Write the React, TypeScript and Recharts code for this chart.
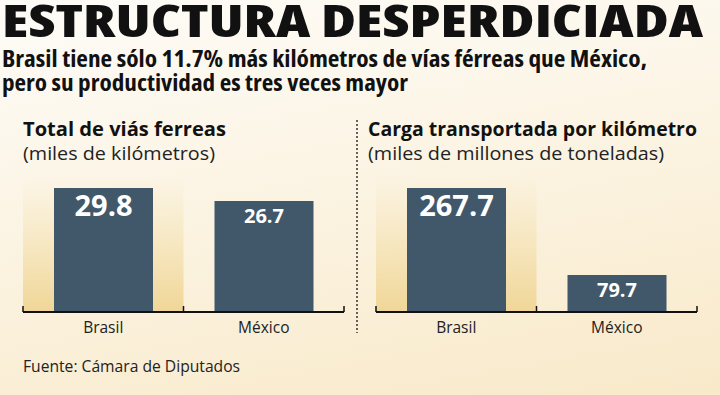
import React from 'react';
import { BarChart, Bar, XAxis, YAxis, ReferenceArea, LabelList } from 'recharts';

const countries = ['Brasil', 'México'];
const railKm = [29.8, 26.7];
const freightTons = [267.7, 79.7];

const railData = countries.map((name, i) => ({ name, value: railKm[i] }));
const freightData = countries.map((name, i) => ({ name, value: freightTons[i] }));

const BAR = '#41586a';
const FONT = '"Open Sans", "DejaVu Sans", sans-serif';
const NARROW = { fontStretch: '75%' };

const ValueLabel = (props: any) => {
  const { x, y, width, value, index } = props;
  const big = index === 0;
  return (
    <text
      x={x + width / 2}
      y={y + (big ? 28 : 22)}
      textAnchor="middle"
      fill="#fff"
      fontFamily={FONT}
      fontWeight={700}
      fontSize={big ? 29 : 20}
    >
      {value}
    </text>
  );
};

const CatTick = (props: any) => {
  const { x, y, payload, index, visibleTicksCount } = props;
  const half = payload.offset || 80.25;
  const axisY = y - 8;
  return (
    <g>
      <line x1={x - half} x2={x - half} y1={axisY} y2={axisY - 6} stroke="#111" strokeWidth={1.5} />
      {index === visibleTicksCount - 1 && (
        <line x1={x + half} x2={x + half} y1={axisY} y2={axisY - 6} stroke="#111" strokeWidth={1.5} />
      )}
      <text x={x} y={axisY + 21} textAnchor="middle" fill="#222" fontFamily={FONT} fontSize={15.5}>
        {payload.value}
      </text>
    </g>
  );
};

const Panel = ({ data, id, left }: { data: any[]; id: string; left: boolean }) => (
  <BarChart
    width={360}
    height={395}
    data={data}
    margin={{ top: 175, bottom: 53, left: left ? 23 : 16, right: left ? 16 : 23 }}
  >
    <XAxis
      dataKey="name"
      axisLine={{ stroke: '#111', strokeWidth: 2 }}
      tickLine={false}
      tick={<CatTick />}
      height={30}
      interval={0}
    />
    <YAxis hide domain={[0, (max: number) => max * 1.105]} />
    <ReferenceArea
      x1={data[0].name}
      x2={data[0].name}
      fill={`url(#${id})`}
      fillOpacity={1}
      stroke="none"
      ifOverflow="visible"
    />
    <Bar dataKey="value" fill={BAR} barSize={99} isAnimationActive={false}>
      <LabelList dataKey="value" content={<ValueLabel />} />
    </Bar>
  </BarChart>
);

export default function App() {
  return (
    <div
      style={{
        position: 'absolute',
        left: 0,
        top: 0,
        width: 720,
        height: 395,
        overflow: 'hidden',
        background: 'linear-gradient(170deg, #fefcf8 0%, #fcf5e6 40%, #f8e9c9 100%)',
      }}
    >
      <svg width={0} height={0} style={{ position: 'absolute' }}>
        <defs>
          {['glowL', 'glowR'].map((g) => (
            <linearGradient key={g} id={g} x1="0" y1="0" x2="0" y2="1">
              <stop offset="0%" stopColor="#f5e2b0" stopOpacity={0} />
              <stop offset="100%" stopColor="#f0d697" stopOpacity={1} />
            </linearGradient>
          ))}
        </defs>
      </svg>
      <div style={{ position: 'absolute', left: 0, top: 0 }}>
        <Panel data={railData} id="glowL" left />
      </div>
      <div style={{ position: 'absolute', left: 360, top: 0 }}>
        <Panel data={freightData} id="glowR" left={false} />
      </div>
      <svg width={720} height={395} style={{ position: 'absolute', left: 0, top: 0, pointerEvents: 'none' }}>
        <g fontFamily={FONT} fill="#111">
          <text x={2} y={37} fontSize={45} fontWeight={800} style={NARROW} textLength={701} lengthAdjust="spacingAndGlyphs">
            ESTRUCTURA DESPERDICIADA
          </text>
          <text x={2} y={67} fontSize={23} fontWeight={700} style={NARROW} textLength={645} lengthAdjust="spacingAndGlyphs">
            Brasil tiene sólo 11.7% más kilómetros de vías férreas que México,
          </text>
          <text x={2} y={91} fontSize={23} fontWeight={700} style={NARROW} textLength={406} lengthAdjust="spacingAndGlyphs">
            pero su productividad es tres veces mayor
          </text>
          <text x={23} y={136} fontSize={20} fontWeight={700} textLength={203} lengthAdjust="spacingAndGlyphs">
            Total de viás ferreas
          </text>
          <text x={23} y={160} fontSize={19} fill="#222" textLength={192} lengthAdjust="spacingAndGlyphs">
            (miles de kilómetros)
          </text>
          <text x={368} y={136} fontSize={20} fontWeight={700} textLength={329} lengthAdjust="spacingAndGlyphs">
            Carga transportada por kilómetro
          </text>
          <text x={368} y={160} fontSize={19} fill="#222" textLength={296} lengthAdjust="spacingAndGlyphs">
            (miles de millones de toneladas)
          </text>
          <text x={23} y={372} fontSize={16} fill="#222" textLength={217} lengthAdjust="spacingAndGlyphs">
            Fuente: Cámara de Diputados
          </text>
        </g>
        <line x1={357} x2={357} y1={120} y2={333} stroke="#333" strokeWidth={1.5} strokeDasharray="2 2" />
      </svg>
    </div>
  );
}
